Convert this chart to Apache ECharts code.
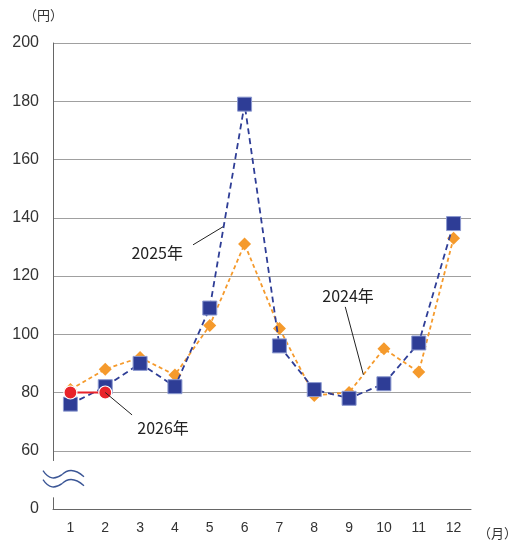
<!DOCTYPE html>
<html><head><meta charset="utf-8">
<script src="https://cdn.jsdelivr.net/npm/echarts@6/dist/echarts.min.js"></script>
<style>html,body{margin:0;padding:0;background:#fff}#c{width:515px;height:542px}</style>
</head><body><div id="c"></div>
<script>
const months = ['1','2','3','4','5','6','7','8','9','10','11','12'];
const y2024 = [81, 88, 92, 86, 103, 131, 102, 79, 80, 95, 87, 133];
const y2025 = [76, 82, 90, 82, 109, 179, 96, 81, 78, 83, 97, 138];
const y2026 = [80, 80];
const yTicks = [40, 60, 80, 100, 120, 140, 160, 180, 200];
const yTickLabels = ['0', '60', '80', '100', '120', '140', '160', '180', '200'];
// annotation anchors in data space: [categoryIndex (fractional), value]
const notes = [
  {text: '2025年', at: [2.49, 128], from: [3.52, 130.7], to: [4.38, 136.9]},
  {text: '2024年', at: [7.97, 113.2], from: [7.89, 109.4], to: [8.41, 86.1]},
  {text: '2026年', at: [2.66, 67.9], from: [1.77, 72.3], to: [1, 80]}
];
const FONT = "'Liberation Sans', 'Noto Sans CJK JP', sans-serif";
const chart = echarts.init(document.getElementById('c'), null, {renderer: 'canvas'});
chart.setOption({
  animation: false,
  grid: {left: 53, right: 44, top: 43, bottom: 33},
  xAxis: {
    type: 'category', data: months, boundaryGap: true,
    axisLine: {lineStyle: {color: '#666', width: 1}},
    axisTick: {show: false},
    axisLabel: {color: '#333', fontSize: 14, fontFamily: FONT, margin: 12}
  },
  yAxis: {
    type: 'value', min: 40, max: 200, interval: 20,
    axisLine: {show: true, lineStyle: {color: '#666', width: 1}},
    axisTick: {show: false},
    splitLine: {lineStyle: {color: '#a0a0a0', width: 1}},
    axisLabel: {color: '#333', fontSize: 16, fontFamily: FONT, margin: 14,
      formatter: v => yTickLabels[yTicks.indexOf(v)] ?? ''}
  },
  series: [
    {name: '2024', type: 'line', data: y2024, symbol: 'diamond', symbolSize: 13,
      lineStyle: {color: '#F59A2C', width: 1.8, type: [4, 3]},
      itemStyle: {color: '#F59A2C', borderColor: '#F59A2C', borderWidth: 0}, z: 2},
    {name: '2025', type: 'line', data: y2025, symbol: 'rect', symbolSize: 14,
      lineStyle: {color: '#2E3D96', width: 1.8, type: [6, 4]},
      itemStyle: {color: '#2E3D96', borderColor: '#8C9AD0', borderWidth: 1}, z: 3},
    {name: '2026', type: 'line', data: y2026, symbol: 'circle', symbolSize: 13,
      lineStyle: {color: '#E8232A', width: 1.8},
      itemStyle: {color: '#E8232A', borderColor: '#fff', borderWidth: 1.2}, z: 4}
  ]
});
const p0 = chart.convertToPixel({gridIndex: 0}, [0, 100]);
const p1 = chart.convertToPixel({gridIndex: 0}, [1, 100]);
const step = p1[0] - p0[0];
function px(p) {
  const y = chart.convertToPixel({yAxisIndex: 0}, p[1]);
  return [p0[0] + p[0] * step, y];
}
const g = [];
// axis break: hide part of the y axis line and draw the wavy symbol
const gTop = px([0, 56.5]), gBot = px([0, 44]);
const ax = p0[0] - step / 2;
g.push({type: 'rect', shape: {x: ax - 3, y: gTop[1], width: 6, height: gBot[1] - gTop[1]},
  style: {fill: '#fff'}, z: 100});
const wy = (gTop[1] + gBot[1]) / 2;
[-4.5, 4.5].forEach(dy => {
  const y0 = wy + dy;
  const x0 = ax - 10;
  g.push({type: 'bezierCurve', z: 101,
    shape: {x1: x0, y1: y0 - 4, cpx1: x0 + 6, cpy1: y0 + 5, cpx2: x0 + 12, cpy2: y0 + 5, x2: x0 + 19, y2: y0},
    style: {stroke: '#3A5595', lineWidth: 1.3, fill: null}});
  g.push({type: 'bezierCurve', z: 101,
    shape: {x1: x0 + 19, y1: y0, cpx1: x0 + 25, cpy1: y0 - 6, cpx2: x0 + 32, cpy2: y0 - 6, x2: x0 + 41, y2: y0 + 2},
    style: {stroke: '#3A5595', lineWidth: 1.3, fill: null}});
});
notes.forEach(n => {
  const a = px(n.at), f = px(n.from), t = px(n.to);
  g.push({type: 'line', z: 50, shape: {x1: f[0], y1: f[1], x2: t[0], y2: t[1]},
    style: {stroke: '#222', lineWidth: 1}});
  g.push({type: 'text', z: 50, x: a[0], y: a[1], style: {text: n.text, fill: '#222',
    font: "16px 'Noto Sans CJK JP', sans-serif", align: 'center', verticalAlign: 'middle'}});
});
const topPt = px([0, 200]);
g.push({type: 'text', x: 24, y: topPt[1] - 28, style: {text: '（円）', fill: '#333',
  font: "13px 'Noto Sans CJK JP', sans-serif", align: 'left', verticalAlign: 'middle'}});
const botPt = px([11, 40]);
g.push({type: 'text', x: 478, y: botPt[1] + 24, style: {text: '（月）', fill: '#333',
  font: "13px 'Noto Sans CJK JP', sans-serif", align: 'left', verticalAlign: 'middle'}});
chart.setOption({graphic: g});
</script></body></html>
